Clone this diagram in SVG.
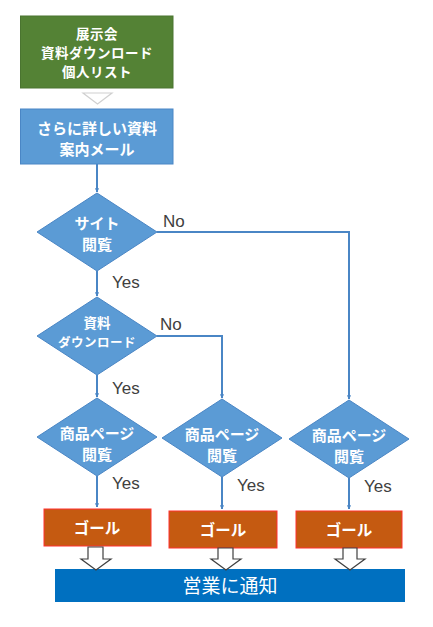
<svg xmlns="http://www.w3.org/2000/svg" width="433" height="627" viewBox="0 0 433 627">
<defs>
<marker id="ah" viewBox="0 0 10 10" refX="9" refY="5" markerWidth="4.5" markerHeight="4.5" orient="auto" markerUnits="userSpaceOnUse">
<path d="M0,0 L10,5 L0,10 L3,5 Z" fill="#4a86c5"/>
</marker>
<style>
.jp{font-family:"Noto Sans CJK JP","Noto Sans",sans-serif;font-weight:bold;fill:#ffffff;text-anchor:middle;dominant-baseline:central}
.lbl{font-family:"Liberation Sans","Noto Sans",sans-serif;font-size:17px;fill:#404040;dominant-baseline:central}
.dia{fill:#5b9bd5;stroke:#4a86c5;stroke-width:1}
.goal{fill:#c55a11;stroke:#ff3030;stroke-width:1}
.conn{fill:none;stroke:#4a86c5;stroke-width:2}
.hollow{fill:#ffffff;stroke:#404040;stroke-width:1.2}
</style>
</defs>
<rect width="433" height="627" fill="#ffffff"/>
<g id="start">
<rect x="20.5" y="16" width="152.5" height="72" fill="#548235" stroke="#4a7430" stroke-width="1"/>
<text class="jp" x="97" y="33" font-size="13.5" letter-spacing="0.5">展示会</text>
<text class="jp" x="97" y="52" font-size="13.5" letter-spacing="0.5">資料ダウンロード</text>
<text class="jp" x="97" y="71" font-size="13.5" letter-spacing="0.5">個人リスト</text>
</g>
<g id="mail">
<rect x="20.5" y="109" width="152.5" height="55" fill="#5b9bd5" stroke="#4a86c5" stroke-width="1"/>
<text class="jp" x="97" y="127" font-size="15">さらに詳しい資料</text>
<text class="jp" x="97" y="148" font-size="15">案内メール</text>
</g>
<g id="d1">
<polygon class="dia" points="97,193 157,232 97,271 37,232"/>
<text class="jp" x="97" y="222" font-size="15">サイト</text>
<text class="jp" x="97" y="243" font-size="15">閲覧</text>
</g>
<g id="d2">
<polygon class="dia" points="97,297 157,336 97,375 37,336"/>
<text class="jp" x="97" y="322" font-size="13.5">資料</text>
<text class="jp" x="97" y="341" font-size="12.5" letter-spacing="0.5">ダウンロード</text>
</g>
<g id="d3">
<polygon class="dia" points="97,398 157,437 97,476 37,437"/>
<text class="jp" x="97" y="432" font-size="15">商品ページ</text>
<text class="jp" x="97" y="453" font-size="15">閲覧</text>
</g>
<g id="d4">
<polygon class="dia" points="222,399 282,438 222,477 162,438"/>
<text class="jp" x="222" y="433" font-size="15">商品ページ</text>
<text class="jp" x="222" y="454" font-size="15">閲覧</text>
</g>
<g id="d5">
<polygon class="dia" points="349,400 409,439 349,478 289,439"/>
<text class="jp" x="349" y="434" font-size="15">商品ページ</text>
<text class="jp" x="349" y="455" font-size="15">閲覧</text>
</g>
<g id="g1">
<rect class="goal" x="44" y="509" width="107" height="37"/>
<text class="jp" x="97" y="527" font-size="15.5">ゴール</text>
</g>
<g id="g2">
<rect class="goal" x="169" y="511" width="108" height="37"/>
<text class="jp" x="223" y="529" font-size="15.5">ゴール</text>
</g>
<g id="g3">
<rect class="goal" x="296" y="511" width="106" height="37"/>
<text class="jp" x="349" y="529" font-size="15.5">ゴール</text>
</g>
<g id="notify">
<rect x="55" y="569" width="350" height="33" fill="#0070c0"/>
<text class="jp" x="230" y="584" font-size="19" style="font-weight:normal">営業に通知</text>
</g>
<g id="connectors">
<polygon points="83,93 112,93 97.5,104" fill="#ffffff" stroke="#d0d0d0" stroke-width="1.2"/>
<path class="conn" d="M97,164 V192" marker-end="url(#ah)"/>
<path class="conn" d="M97,271 V296" marker-end="url(#ah)"/>
<path class="conn" d="M97,375 V397" marker-end="url(#ah)"/>
<path class="conn" d="M97,476 V507" marker-end="url(#ah)"/>
<path class="conn" d="M157,232 H349 V399" marker-end="url(#ah)"/>
<path class="conn" d="M157,336 H222 V398" marker-end="url(#ah)"/>
<path class="conn" d="M222,477 V509" marker-end="url(#ah)"/>
<path class="conn" d="M349,478 V509" marker-end="url(#ah)"/>
<polygon class="hollow" points="88,547 103,547 103,559 111,559 96,570 81,559 88,559"/>
<polygon class="hollow" points="218,548 233,548 233,559 241,559 226,570 211,559 218,559"/>
<polygon class="hollow" points="343,548 357,548 357,559 365,559 350,570 335,559 343,559"/>
<text class="lbl" x="163" y="221">No</text>
<text class="lbl" x="112" y="282">Yes</text>
<text class="lbl" x="160" y="324">No</text>
<text class="lbl" x="112" y="388">Yes</text>
<text class="lbl" x="112" y="483">Yes</text>
<text class="lbl" x="237" y="485">Yes</text>
<text class="lbl" x="364" y="486">Yes</text>
</g>
</svg>
